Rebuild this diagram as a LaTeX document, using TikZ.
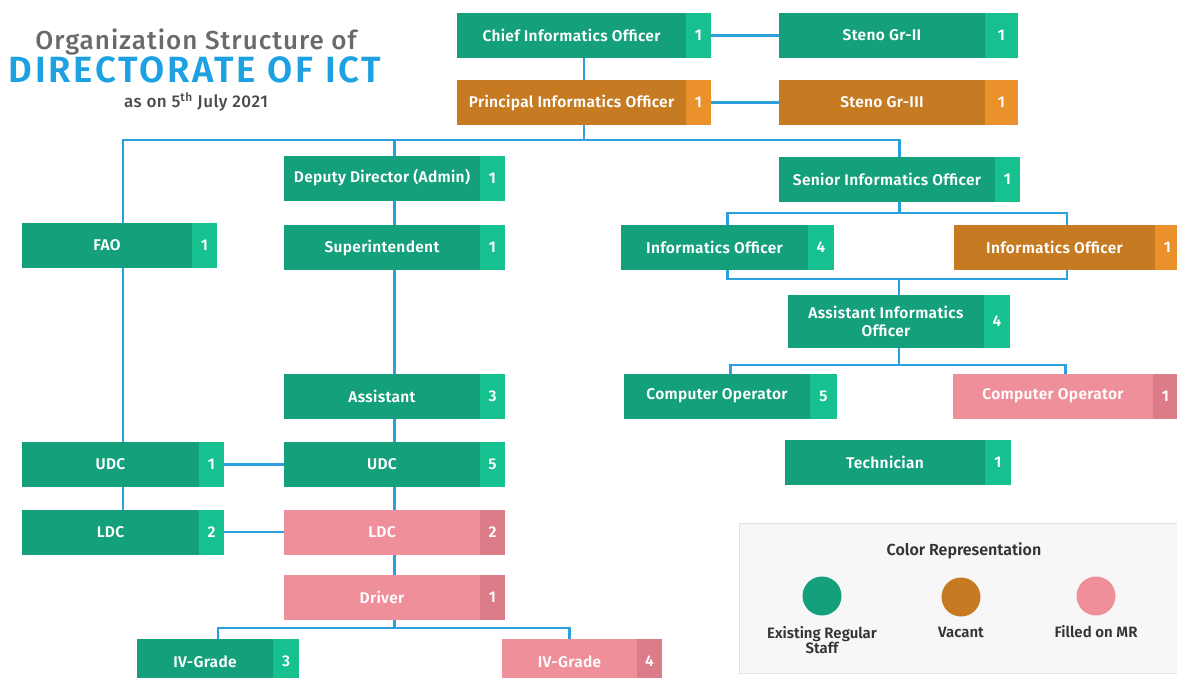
\documentclass[tikz,border=0pt]{standalone}
\usepackage{fontspec}
\setmainfont{Fira Sans}[BoldFont={Fira Sans SemiBold}]
\newfontfamily\headfont{Fira Sans Medium}
\usetikzlibrary{positioning}
\usetikzlibrary{calc}

\definecolor{regular}{HTML}{13A07A}
\definecolor{regularnum}{HTML}{16C08F}
\definecolor{vacant}{HTML}{C67A22}
\definecolor{vacantnum}{HTML}{EA912C}
\definecolor{filledmr}{HTML}{EF8F9A}
\definecolor{filledmrnum}{HTML}{DB7C88}
\definecolor{linkblue}{HTML}{2C9FDD}
\definecolor{titleblue}{HTML}{1DA1E3}
\definecolor{titlegray}{HTML}{6A6A6A}
\definecolor{subgray}{HTML}{4A4A4A}
\definecolor{legfill}{HTML}{F7F7F7}
\definecolor{legline}{HTML}{E2E2E2}
\definecolor{legdark}{HTML}{333333}

\begin{document}
\begin{tikzpicture}[x=1pt, y=-1pt,
		box/.style={inner sep=0pt, outer sep=0pt, minimum height=45pt},
		postfont/.style={text=white, font=\fontsize{15.5}{18}\selectfont\bfseries\addfontfeature{LetterSpace=2}, align=center},
		regbox/.style={box, fill=regularnum, minimum width=#1pt},
		reglabel/.style={box, postfont, fill=regular, minimum width=#1pt, anchor=west},
		vacbox/.style={box, fill=vacantnum, minimum width=#1pt},
		vaclabel/.style={box, postfont, fill=vacant, minimum width=#1pt, anchor=west},
		mrbox/.style={box, fill=filledmrnum, minimum width=#1pt},
		mrlabel/.style={box, postfont, fill=filledmr, minimum width=#1pt, anchor=west},
		num/.style={box, postfont, minimum width=#1pt, anchor=east},
		num/.default=25,
		link/.style={draw=linkblue, line width=2.8pt},
		dot/.style={circle, minimum size=39pt, inner sep=0pt},
		legtext/.style={text=legdark, inner sep=0pt, align=center, font=\fontsize{15}{15}\selectfont\bfseries}]
	\clip (0,0) rectangle (1177,677);
	\fill[white] (0,0) rectangle (1177,677);

	% title
	\node[text=titlegray, font=\headfont\fontsize{26}{30}\selectfont\addfontfeature{LetterSpace=4}] (title) at (196,42) {Organization Structure of};
	\node[text=titleblue, font=\fontsize{36.5}{40}\selectfont\bfseries\addfontfeature{LetterSpace=7.5}] (dict) at (195,70) {DIRECTORATE OF ICT};
	\node[text=subgray, font=\headfont\fontsize{17}{20}\selectfont\addfontfeature{LetterSpace=3}] (date) at (196,102) {as on 5\textsuperscript{th} July 2021};

	% top posts
	\node[regbox=254] (cio) at (584,35.5) {};
	\node[reglabel=229] (cio-t) at (cio.west) {Chief Informatics Officer};
	\node[num] (cio-n) at (cio.east) {1};
	\node[regbox=239] (steno2) at (898.5,35.5) {};
	\node[reglabel=206] (steno2-t) at (steno2.west) {Steno Gr-II};
	\node[num=33] (steno2-n) at (steno2.east) {1};
	\node[vacbox=254] (pio) at (584,102.5) {};
	\node[vaclabel=229] (pio-t) at (pio.west) {Principal Informatics Officer};
	\node[num] (pio-n) at (pio.east) {1};
	\node[vacbox=239] (steno3) at (898.5,102.5) {};
	\node[vaclabel=206] (steno3-t) at (steno3.west) {Steno Gr-III};
	\node[num=33] (steno3-n) at (steno3.east) {1};

	% admin branch
	\node[regbox=221] (dd) at (394.5,178) {};
	\node[reglabel=196] (dd-t) at (dd.west) {Deputy Director (Admin)};
	\node[num] (dd-n) at (dd.east) {1};
	\node[regbox=221] (supt) at (394.5,247.5) {};
	\node[reglabel=196] (supt-t) at (supt.west) {Superintendent};
	\node[num] (supt-n) at (supt.east) {1};
	\node[regbox=221] (asst) at (394.5,396) {};
	\node[reglabel=196] (asst-t) at (asst.west) {Assistant};
	\node[num] (asst-n) at (asst.east) {3};
	\node[regbox=221] (udcm) at (394.5,464.5) {};
	\node[reglabel=196] (udcm-t) at (udcm.west) {UDC};
	\node[num] (udcm-n) at (udcm.east) {5};
	\node[mrbox=221] (ldcm) at (394.5,532) {};
	\node[mrlabel=196] (ldcm-t) at (ldcm.west) {LDC};
	\node[num] (ldcm-n) at (ldcm.east) {2};
	\node[mrbox=221] (drv) at (394.5,597.5) {};
	\node[mrlabel=196] (drv-t) at (drv.west) {Driver};
	\node[num] (drv-n) at (drv.east) {1};
	\node[regbox=162] (ivg) at (218,661.5) {};
	\node[reglabel=136] (ivg-t) at (ivg.west) {IV-Grade};
	\node[num=26] (ivg-n) at (ivg.east) {3};
	\node[mrbox=160] (ivp) at (582,661.5) {};
	\node[mrlabel=135] (ivp-t) at (ivp.west) {IV-Grade};
	\node[num] (ivp-n) at (ivp.east) {4};

	% accounts branch
	\node[regbox=195] (fao) at (119.5,245.5) {};
	\node[reglabel=170] (fao-t) at (fao.west) {FAO};
	\node[num] (fao-n) at (fao.east) {1};
	\node[regbox=202] (udcl) at (123,464.5) {};
	\node[reglabel=177] (udcl-t) at (udcl.west) {UDC};
	\node[num] (udcl-n) at (udcl.east) {1};
	\node[regbox=202] (ldcl) at (123,532) {};
	\node[reglabel=177] (ldcl-t) at (ldcl.west) {LDC};
	\node[num] (ldcl-n) at (ldcl.east) {2};

	% technical branch
	\node[regbox=241] (sio) at (899.5,179.5) {};
	\node[reglabel=216] (sio-t) at (sio.west) {Senior Informatics Officer};
	\node[num] (sio-n) at (sio.east) {1};
	\node[regbox=213] (io) at (727.5,247.5) {};
	\node[reglabel=187] (io-t) at (io.west) {Informatics Officer};
	\node[num=26] (io-n) at (io.east) {4};
	\node[vacbox=226] (iov) at (1067,247.5) {};
	\node[vaclabel=201] (iov-t) at (iov.west) {Informatics Officer};
	\node[num] (iov-n) at (iov.east) {1};
	\node[regbox=222, minimum height=53pt] (aio) at (899,321.5) {};
	\node[reglabel=196, minimum height=53pt] (aio-t) at (aio.west) {Assistant Informatics\\Officer};
	\node[num=26] (aio-n) at (aio.east) {4};
	\node[regbox=213] (cog) at (730.5,396) {};
	\node[reglabel=186] (cog-t) at (cog.west) {Computer Operator};
	\node[num=27] (cog-n) at (cog.east) {5};
	\node[mrbox=225] (cop) at (1065.5,396) {};
	\node[mrlabel=200] (cop-t) at (cop.west) {Computer Operator};
	\node[num] (cop-n) at (cop.east) {1};
	\node[regbox=226] (tech) at (898,462) {};
	\node[reglabel=200] (tech-t) at (tech.west) {Technician};
	\node[num=26] (tech-n) at (tech.east) {1};

	% connectors
	\draw[link] (cio.east) -- (steno2.west);
	\draw[link] (pio.east) -- (steno3.west);
	\draw[link] (cio.south) -- (pio.north);
	\draw[link] (pio.south) -- ++(0,15) coordinate (bus) -| (udcl.north |- fao.north);
	\draw[link] (bus) -| (dd.north);
	\draw[link] (bus) -| (sio.north);
	\draw[link] (dd.south) -- (supt.north);
	\draw[link] (supt.south) -- (asst.north);
	\draw[link] (asst.south) -- (udcm.north);
	\draw[link] (udcm.south) -- (ldcm.north);
	\draw[link] (ldcm.south) -- (drv.north);
	\draw[link] (drv.south) -- ++(0,8) coordinate (ivbus) -| (ivg.north);
	\draw[link] (ivbus) -| (ivp-t.north);
	\draw[link] (udcl.north |- fao.south) -- (udcl.north);
	\draw[link] (udcl.south) -- (ldcl.north);
	\draw[link] (udcl.east) -- (udcm.west);
	\draw[link] (ldcl.east) -- (ldcm.west);
	\draw[link] (sio.south) -- ++(0,11) coordinate (iobus) -| (io.north);
	\draw[link] (iobus) -| (iov.north);
	\draw[link] (io.south) -- ++(0,9) coordinate (aiobus) -| (iov.south);
	\draw[link] (aiobus -| aio.north) -- (aio.north);
	\draw[link] (aio.south) -- ++(0,17) coordinate (cobus) -| (cog.north);
	\draw[link] (cobus) -| (cop.north);

	% legend
	\node[draw=legline, fill=legfill, line width=1pt, minimum width=441pt, minimum height=150pt, inner sep=0pt, anchor=north west] (legend) at (739,523) {};
	\node[legtext, font=\fontsize{16}{18}\selectfont\bfseries] (legtitle) at (964,551) {Color Representation};
	\node[dot, fill=regular] (dot-reg) at (822,596) {};
	\node[dot, fill=vacant] (dot-vac) at (961,597) {};
	\node[dot, fill=filledmr] (dot-mr) at (1096,596) {};
	\node[legtext, below=11pt of dot-reg] (txt-reg) {Existing Regular\\Staff};
	\node[legtext, below=10pt of dot-vac] (txt-vac) {Vacant};
	\node[legtext, below=10pt of dot-mr] (txt-mr) {Filled on MR};
\end{tikzpicture}
\end{document}
